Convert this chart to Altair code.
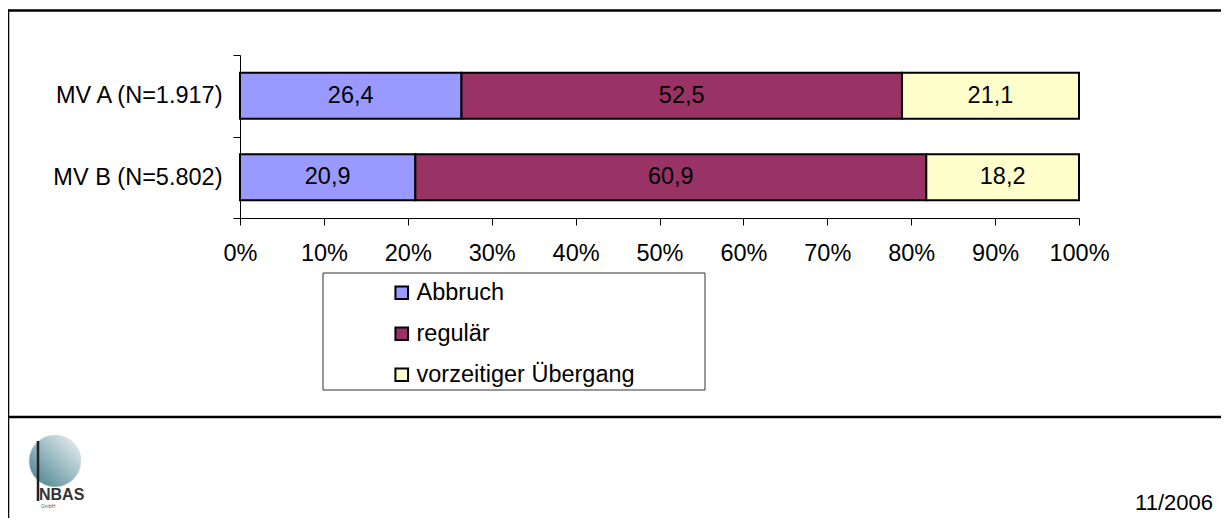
import altair as alt
import pandas as pd

# ---- data ----
groups = ["MV A (N=1.917)", "MV B (N=5.802)"]
categories = ["Abbruch", "regulär", "vorzeitiger Übergang"]
abbruch = [26.4, 20.9]
regulaer = [52.5, 60.9]
vorzeitig = [21.1, 18.2]
colors = ["#9999ff", "#993366", "#ffffcc"]
x_ticks = [0, 10, 20, 30, 40, 50, 60, 70, 80, 90, 100]
date_text = "11/2006"

FONT = "Liberation Sans"
FS = 23.5

rows = []
for gi, g in enumerate(groups):
    for ci, (c, vals) in enumerate(zip(categories, [abbruch, regulaer, vorzeitig])):
        rows.append({"group": g, "category": c, "value": vals[gi], "order": ci})
df = pd.DataFrame(rows)
one = pd.DataFrame({"k": [0]})

y_enc = alt.Y(
    "group:N",
    sort=groups,
    scale=alt.Scale(paddingInner=0, paddingOuter=0),
    axis=alt.Axis(
        title=None,
        tickBand="extent",
        tickSize=7,
        tickColor="black",
        domainColor="black",
        labelFont=FONT,
        labelFontSize=FS,
        labelColor="black",
        labelPadding=11,
        labelLimit=400,
    ),
)

bars = alt.Chart(df).mark_bar(size=46, stroke="black", strokeWidth=2).encode(
    y=y_enc,
    x=alt.X(
        "value:Q",
        stack="zero",
        scale=alt.Scale(domain=[0, 100], nice=False),
        axis=alt.Axis(
            title=None,
            values=x_ticks,
            labelExpr="datum.value + '%'",
            labelFlush=False,
            labelOverlap=False,
            grid=False,
            tickSize=7,
            tickColor="black",
            domainColor="black",
            labelFont=FONT,
            labelFontSize=FS,
            labelColor="black",
            labelPadding=16,
        ),
    ),
    color=alt.Color(
        "category:N",
        sort=categories,
        scale=alt.Scale(domain=categories, range=colors),
        legend=alt.Legend(
            orient="none",
            legendX=150,
            legendY=226,
            title=None,
            padding=0,
            symbolType="square",
            symbolSize=160,
            symbolStrokeColor="black",
            symbolStrokeWidth=2,
            labelFont=FONT,
            labelFontSize=FS,
            labelColor="black",
            labelOffset=3,
            labelLimit=400,
            rowPadding=16,
        ),
    ),
    order=alt.Order("order:Q"),
)

labels = (
    alt.Chart(df)
    .transform_stack(stack="value", as_=["x0", "x1"], groupby=["group"], sort=[alt.SortField("order")])
    .transform_calculate(
        mid="(datum.x0 + datum.x1) / 2",
        label="replace(format(datum.value, '.1f'), '.', ',')",
    )
    .mark_text(font=FONT, fontSize=FS, color="black")
    .encode(x="mid:Q", y=alt.Y("group:N", sort=groups), text="label:N")
)

# legend frame
legend_box = alt.Chart(one).mark_rect(fillOpacity=0, stroke="#333333", strokeWidth=1).encode(
    x=alt.value(83), x2=alt.value(465), y=alt.value(218), y2=alt.value(335)
)

# slide frame lines
top_line = alt.Chart(one).mark_rule(color="black", strokeWidth=2.5).encode(
    x=alt.value(-233), x2=alt.value(981), y=alt.value(-44.5)
)
left_line = alt.Chart(one).mark_rule(color="black", strokeWidth=2.5).encode(
    x=alt.value(-232), y=alt.value(-45.5), y2=alt.value(463)
)
sep_line = alt.Chart(one).mark_rule(color="black", strokeWidth=2.5).encode(
    x=alt.value(-233), x2=alt.value(981), y=alt.value(362)
)

# logo approximation
grad = alt.LinearGradient(
    gradient="linear",
    stops=[
        alt.GradientStop(color="#3d7c88", offset=0),
        alt.GradientStop(color="#7fa7b0", offset=0.35),
        alt.GradientStop(color="#f2f5f6", offset=1),
    ],
    x1=0, x2=1, y1=1, y2=0,
)
logo_circle = alt.Chart(one).mark_point(
    shape="circle", filled=True, size=2700, fill=grad, stroke="#cfd8da", strokeWidth=0.5, opacity=1
).encode(x=alt.value(-185), y=alt.value(406))
logo_bar = alt.Chart(one).mark_rule(color="#222222", strokeWidth=2.5).encode(
    x=alt.value(-202), y=alt.value(386), y2=alt.value(446)
)
logo_text = alt.Chart(one).mark_text(
    text="NBAS", font=FONT, fontSize=16, fontWeight="bold", color="#333333", align="left", baseline="middle"
).encode(x=alt.value(-201), y=alt.value(440))
logo_small = alt.Chart(one).mark_text(
    text="GmbH", font=FONT, fontSize=5, color="#555555", align="left", baseline="middle"
).encode(x=alt.value(-199), y=alt.value(451))

date = alt.Chart(one).mark_text(
    text=date_text, font=FONT, fontSize=22, color="black", align="right", baseline="middle"
).encode(x=alt.value(973), y=alt.value(448))

chart = (
    alt.layer(
        legend_box, bars, labels, top_line, left_line, sep_line,
        logo_circle, logo_bar, logo_text, logo_small, date,
    )
    .resolve_scale(x="shared", y="shared")
    .properties(
        width=839,
        height=163,
        autosize=alt.AutoSizeParams(type="none"),
        padding={"left": 232, "top": 47, "right": 142, "bottom": 300},
        background="white",
    )
    .configure_view(stroke=None)
)

chart.save("out.html", embed_options={"renderer": "svg", "actions": False})
